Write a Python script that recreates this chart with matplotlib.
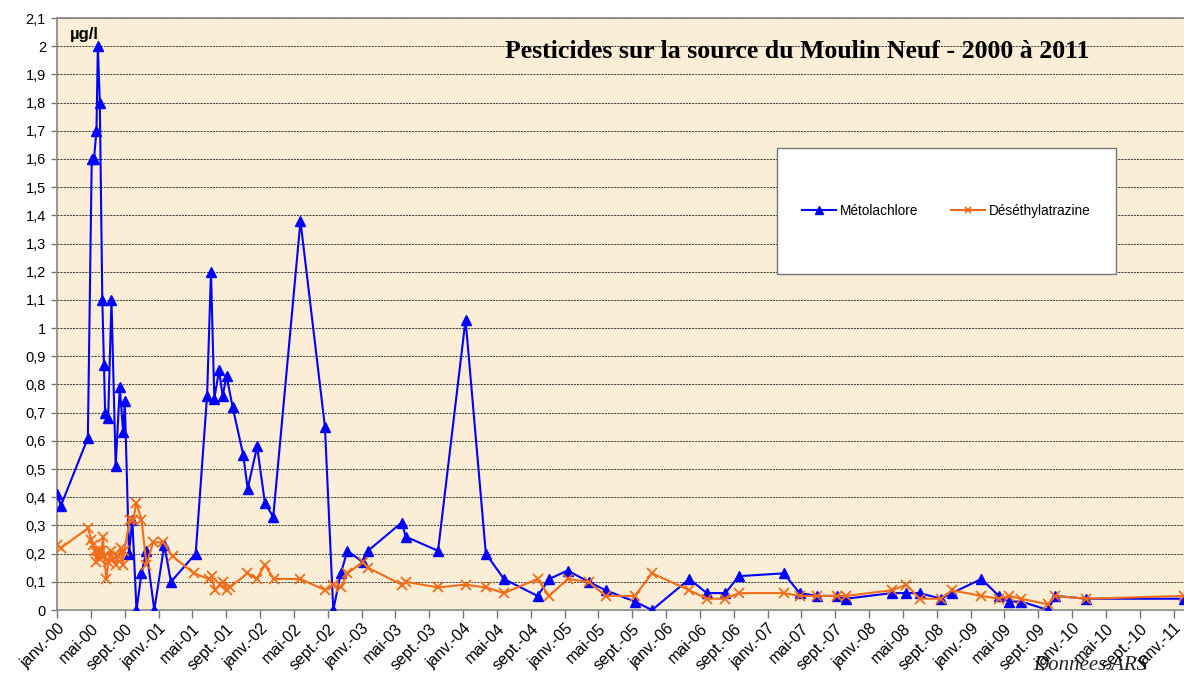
import numpy as np
import pandas as pd
import matplotlib
matplotlib.use("Agg")
import matplotlib.pyplot as plt
import matplotlib.dates as mdates
from matplotlib.patches import Rectangle
from matplotlib.ticker import FuncFormatter, MultipleLocator

# =========================
# Data (µg/l)
# =========================
meto_dates = [
    "2000-01-01", "2000-01-15", "2000-04-21", "2000-05-05", "2000-05-13", "2000-05-22",
    "2000-05-27", "2000-06-03", "2000-06-12", "2000-06-18", "2000-06-22", "2000-07-03",
    "2000-07-15", "2000-07-30", "2000-08-14", "2000-08-26", "2000-09-01", "2000-09-16",
    "2000-09-28", "2000-10-13", "2000-10-31", "2000-11-18", "2000-12-16", "2001-01-21",
    "2001-02-14", "2001-05-14", "2001-06-24", "2001-07-08", "2001-07-20", "2001-08-06",
    "2001-08-19", "2001-09-02", "2001-09-24", "2001-11-01", "2001-11-17", "2001-12-21",
    "2002-01-18", "2002-02-17", "2002-05-26", "2002-08-22", "2002-09-21", "2002-10-18",
    "2002-11-11", "2003-01-05", "2003-01-24", "2003-05-25", "2003-06-09", "2003-10-03",
    "2004-01-10", "2004-03-23", "2004-05-27", "2004-09-25", "2004-11-06", "2005-01-11",
    "2005-03-28", "2005-05-28", "2005-09-10", "2005-11-11", "2006-03-25", "2006-05-27",
    "2006-08-02", "2006-09-19", "2007-02-28", "2007-04-26", "2007-06-28", "2007-09-06",
    "2007-10-10", "2008-03-22", "2008-05-14", "2008-07-01", "2008-09-16", "2008-10-25",
    "2009-02-08", "2009-04-12", "2009-05-18", "2009-07-01", "2009-10-06", "2009-10-31",
    "2010-02-21", "2011-02-06",
]
meto_values = [
    0.41, 0.37, 0.61, 1.60, 1.60, 1.70,
    2.00, 1.80, 1.10, 0.87, 0.70, 0.68,
    1.10, 0.51, 0.79, 0.63, 0.74, 0.20,
    0.32, 0.00, 0.13, 0.21, 0.00, 0.23,
    0.10, 0.20, 0.76, 1.20, 0.75, 0.85,
    0.76, 0.83, 0.72, 0.55, 0.43, 0.58,
    0.38, 0.33, 1.38, 0.65, 0.00, 0.13,
    0.21, 0.17, 0.21, 0.31, 0.26, 0.21,
    1.03, 0.20, 0.11, 0.05, 0.11, 0.14,
    0.10, 0.07, 0.03, 0.00, 0.11, 0.06,
    0.06, 0.12, 0.13, 0.06, 0.05, 0.05,
    0.04, 0.06, 0.06, 0.06, 0.04, 0.06,
    0.11, 0.05, 0.03, 0.03, 0.00, 0.05,
    0.04, 0.04,
]

dea_dates = [
    "2000-01-01", "2000-01-15", "2000-04-21", "2000-05-04", "2000-05-10", "2000-05-16",
    "2000-05-22", "2000-05-28", "2000-06-03", "2000-06-09", "2000-06-15", "2000-06-18",
    "2000-06-27", "2000-07-03", "2000-07-12", "2000-07-21", "2000-07-31", "2000-08-08",
    "2000-08-18", "2000-08-24", "2000-08-30", "2000-09-19", "2000-10-01", "2000-10-13",
    "2000-10-31", "2000-11-18", "2000-12-12", "2001-01-17", "2001-02-20", "2001-05-08",
    "2001-07-01", "2001-07-10", "2001-07-22", "2001-08-09", "2001-08-21", "2001-09-02",
    "2001-09-14", "2001-11-16", "2001-12-19", "2002-01-18", "2002-02-19", "2002-05-26",
    "2002-08-24", "2002-09-21", "2002-10-18", "2002-11-11", "2003-01-05", "2003-01-24",
    "2003-05-25", "2003-06-09", "2003-10-03", "2004-01-10", "2004-03-23", "2004-05-27",
    "2004-09-25", "2004-11-06", "2005-01-11", "2005-03-28", "2005-05-28", "2005-09-10",
    "2005-11-11", "2006-03-25", "2006-05-27", "2006-08-02", "2006-09-19", "2007-02-28",
    "2007-04-26", "2007-06-28", "2007-09-06", "2007-10-10", "2008-03-22", "2008-05-14",
    "2008-07-01", "2008-09-16", "2008-10-25", "2009-02-08", "2009-04-12", "2009-05-18",
    "2009-07-01", "2009-10-06", "2009-10-31", "2010-02-21", "2011-02-06",
]
dea_values = [
    0.23, 0.22, 0.29, 0.25, 0.23, 0.21,
    0.17, 0.21, 0.18, 0.21, 0.26, 0.19,
    0.11, 0.17, 0.21, 0.18, 0.16, 0.19,
    0.22, 0.16, 0.21, 0.32, 0.32, 0.38,
    0.32, 0.16, 0.24, 0.24, 0.19, 0.13,
    0.11, 0.12, 0.07, 0.09, 0.10, 0.07,
    0.08, 0.13, 0.11, 0.16, 0.11, 0.11,
    0.07, 0.09, 0.08, 0.13, 0.17, 0.15,
    0.09, 0.10, 0.08, 0.09, 0.08, 0.06,
    0.11, 0.05, 0.11, 0.10, 0.05, 0.05,
    0.13, 0.07, 0.04, 0.04, 0.06, 0.06,
    0.05, 0.05, 0.05, 0.05, 0.07, 0.09,
    0.04, 0.04, 0.07, 0.05, 0.04, 0.05,
    0.04, 0.02, 0.05, 0.04, 0.05,
]

month_names = {1: "janv.", 5: "mai", 9: "sept."}

W, H = 1184, 673
BG = "#fbeed6"

plt.rcParams["font.family"] = ["Liberation Sans", "DejaVu Sans"]

fig = plt.figure(figsize=(W / 100, H / 100), dpi=100)
ax = fig.add_axes([57 / W, 1 - 610 / H, 1 - 57 / W, (610 - 18) / H])
ax.set_facecolor(BG)

ax.plot(pd.to_datetime(meto_dates), meto_values, color="#0000ff", lw=1.5,
        marker="^", ms=7.5, label="Métolachlore", zorder=3)
ax.plot(pd.to_datetime(dea_dates), dea_values, color="#f26d1a", lw=1.5,
        marker="x", ms=6.5, mew=1.3, label="Déséthylatrazine", zorder=4)

ax.set_ylim(0, 2.1)
ax.set_xlim(pd.Timestamp("2000-01-01"), pd.Timestamp("2011-02-07"))

ax.yaxis.set_major_locator(MultipleLocator(0.1))
ax.yaxis.set_major_formatter(FuncFormatter(
    lambda v, p: f"{v:.1f}".rstrip("0").rstrip(".").replace(".", ",")))
ax.yaxis.grid(True, linestyle=(0, (2, 1.2)), color="#333333", lw=0.7)
ax.set_axisbelow(True)

ax.xaxis.set_major_locator(mdates.MonthLocator(bymonth=(1, 5, 9)))
ax.xaxis.set_major_formatter(FuncFormatter(
    lambda v, p: f"{month_names[mdates.num2date(v).month]}-{mdates.num2date(v).year % 100:02d}"))
ax.tick_params(axis="x", direction="out", length=6, width=1, color="#777777",
               labelsize=11.5, pad=2)
ax.tick_params(axis="y", direction="out", length=4, width=1, color="#777777",
               labelsize=10.5, pad=4)
plt.setp(ax.get_xticklabels(), rotation=45, ha="right", rotation_mode="anchor")

for side in ["left", "bottom", "top"]:
    ax.spines[side].set_color("#888888")
    ax.spines[side].set_linewidth(1.2)
ax.spines["right"].set_visible(False)

ax.text(0.011, 0.985, "µg/l", transform=ax.transAxes, fontsize=12,
        fontweight="bold", va="top", ha="left")
ax.text(0.657, 0.943, "Pesticides sur la source du Moulin Neuf - 2000 à 2011",
        transform=ax.transAxes, fontsize=18.5, fontweight="bold",
        family="Liberation Serif", ha="center", va="center")

# legend box
ax.add_patch(Rectangle((0.639, 0.5676), 0.301, 0.213, transform=ax.transAxes,
                       facecolor="white", edgecolor="#777777", lw=1, zorder=5))
ax.legend(loc="center", bbox_to_anchor=(0.789, 0.674), ncol=2, frameon=False,
          fontsize=9.8, handlelength=2.5, handletextpad=0.3, columnspacing=2.4,
          markerscale=0.75).set_zorder(6)

fig.text(1090 / W, 1 - 665 / H, "Données ARS", family="Liberation Serif",
         style="italic", fontsize=15, color="#222222", ha="center", va="center",
         zorder=-1)

fig.savefig("out.png", dpi=100, facecolor="white")
